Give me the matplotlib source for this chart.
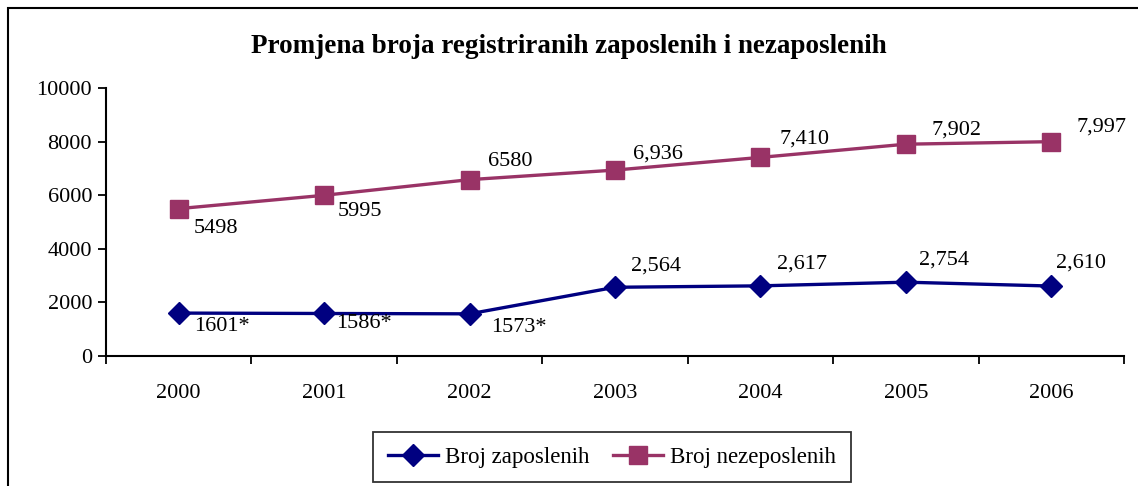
import matplotlib.pyplot as plt
from matplotlib.patches import Rectangle

# Data
years = ["2000", "2001", "2002", "2003", "2004", "2005", "2006"]
zaposleni = [1601, 1586, 1573, 2564, 2617, 2754, 2610]
nezaposleni = [5498, 5995, 6580, 6936, 7410, 7902, 7997]
zaposleni_labels = ["1601*", "1586*", "1573*", "2,564", "2,617", "2,754", "2,610"]
nezaposleni_labels = ["5498", "5995", "6580", "6,936", "7,410", "7,902", "7,997"]

plt.rcParams["font.family"] = ["Liberation Serif", "DejaVu Serif"]

fig = plt.figure(figsize=(11.38, 4.86), dpi=100)
ax = fig.add_axes([0.0931, 0.2675, 0.8946, 0.5515])

# outer chart frame
fig.patches.append(Rectangle((8 / 1138, -0.1), 1.2, 1 - 8 / 486 + 0.1,
                             transform=fig.transFigure, fill=False,
                             edgecolor="black", linewidth=1.5))

x = range(len(years))
ax.plot(x, zaposleni, color="#000080", linewidth=2.4, marker="D",
        markersize=11, label="Broj zaposlenih")
ax.plot(x, nezaposleni, color="#993366", linewidth=2.4, marker="s",
        markersize=13, label="Broj nezeposlenih")

# label offsets (pixels, from point to text top-left)
off_z = [(15, -4), (12, -1), (22, -4), (16, 31), (17, 31), (13, 32), (5, 32)]
off_n = [(15, -10), (14, -7), (18, 28), (18, 26), (19, 28), (26, 24), (25, 24)]
for i in x:
    ax.annotate(zaposleni_labels[i], (i, zaposleni[i]), xytext=off_z[i],
                textcoords="offset pixels", ha="left", va="top", fontsize=16)
    ax.annotate(nezaposleni_labels[i], (i, nezaposleni[i]), xytext=off_n[i],
                textcoords="offset pixels", ha="left", va="top", fontsize=16)

ax.set_xlim(-0.5, 6.5)
ax.set_ylim(0, 10000)
ax.set_yticks(range(0, 10001, 2000))
ax.set_xticks(x)
ax.set_xticklabels(years)
ax.set_xticks([i - 0.5 for i in range(8)], minor=True)
ax.tick_params(axis="x", which="major", length=0, pad=20, labelsize=16)
ax.tick_params(axis="x", which="minor", length=6, width=1.3)
ax.tick_params(axis="y", length=6, width=1.3, labelsize=16, pad=4)
ax.spines["top"].set_visible(False)
ax.spines["right"].set_visible(False)
ax.spines["left"].set_linewidth(1.5)
ax.spines["bottom"].set_linewidth(1.5)

fig.text(0.5, 0.905, "Promjena broja registriranih zaposlenih i nezaposlenih",
         ha="center", va="center", fontsize=19.5, fontweight="bold")

leg = fig.legend(loc="center", bbox_to_anchor=(612 / 1138, 1 - 457 / 486),
                 ncol=2, fontsize=16.5, frameon=True, fancybox=False,
                 edgecolor="black", handlelength=2.2, columnspacing=1.0,
                 handletextpad=0.3, borderpad=0.65, borderaxespad=0)
leg.get_frame().set_linewidth(1.3)

plt.savefig("out.png", dpi=100)
